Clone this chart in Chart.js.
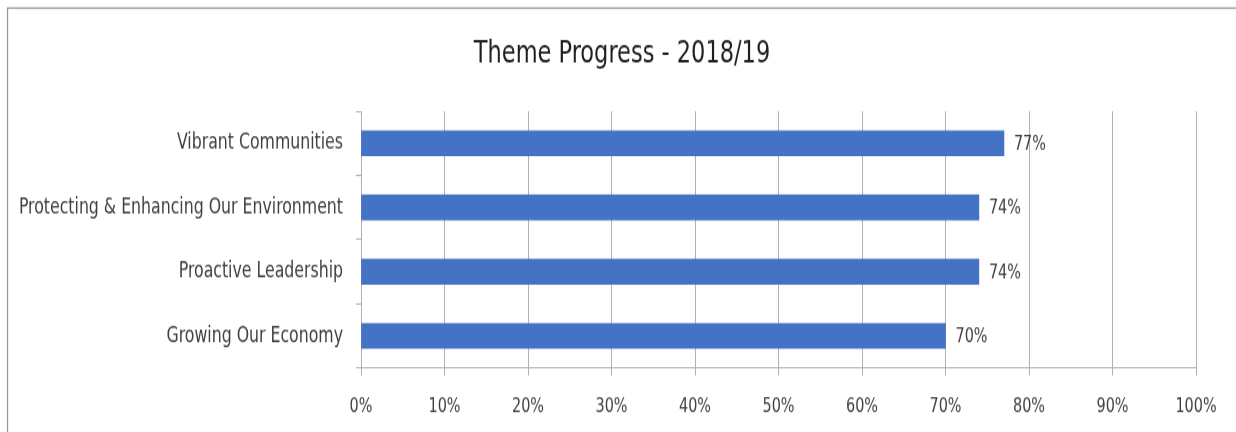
<!DOCTYPE html>
<html>
<head>
<meta charset="utf-8">
<title>Theme Progress - 2018/19</title>
<script src="https://cdn.jsdelivr.net/npm/chart.js@4/dist/chart.umd.min.js"></script>
<style>
  html, body { margin: 0; padding: 0; background: #fff; overflow: hidden; }
  #wrap { width: 1236px; height: 432px; overflow: hidden; }
  /* the chart is laid out short and stretched tall, giving the tall narrow lettering */
  #themeChart { display: block; transform: scaleY(1.2486); transform-origin: 0 0; }
</style>
</head>
<body>
<div id="wrap"><canvas id="themeChart" width="1236" height="346" style="width:1236px;height:346px"></canvas></div>
<script>
// Data
const themes = ['Vibrant Communities', 'Protecting & Enhancing Our Environment', 'Proactive Leadership', 'Growing Our Economy'];
const progress = [77, 74, 74, 70];
const xTicks = [0, 10, 20, 30, 40, 50, 60, 70, 80, 90, 100];
const chartTitle = 'Theme Progress - 2018/19';

const FONT = '"DejaVu Sans Condensed", "Liberation Sans Narrow", sans-serif';
const GRID = '#b0b0b0';
const TEXT = '#404040';
const H = 346;

// Frame round the chart, plus the title centred over the whole frame
const framePlugin = {
  id: 'frame',
  beforeDraw(chart) {
    const ctx = chart.ctx;
    ctx.save();
    ctx.strokeStyle = '#9a9a9a';
    ctx.lineWidth = 1.3;
    ctx.strokeRect(7.5, 6.5, chart.width + 20, chart.height + 20);
    ctx.font = '25px ' + FONT;
    ctx.fillStyle = '#1f1f1f';
    ctx.textAlign = 'center';
    ctx.textBaseline = 'middle';
    ctx.fillText(chartTitle, 622, 43);
    ctx.restore();
  }
};

// Percentage labels at the end of each bar
const barLabels = {
  id: 'barLabels',
  afterDatasetsDraw(chart) {
    const ctx = chart.ctx;
    const meta = chart.getDatasetMeta(0);
    ctx.save();
    ctx.font = '16px ' + FONT;
    ctx.fillStyle = TEXT;
    ctx.textAlign = 'left';
    ctx.textBaseline = 'middle';
    meta.data.forEach((bar, i) => {
      ctx.fillText(progress[i] + '%', bar.x + 10, bar.y + 1);
    });
    ctx.restore();
  }
};

const ctx = document.getElementById('themeChart').getContext('2d');

const themeChart = new Chart(ctx, {
  type: 'bar',
  data: {
    labels: themes,
    datasets: [{
      data: progress,
      backgroundColor: '#4472C4',
      borderWidth: 0,
      barThickness: 20
    }]
  },
  options: {
    indexAxis: 'y',
    responsive: false,
    animation: false,
    layout: { padding: { left: 0, right: 40, top: 89, bottom: 0 } },
    plugins: {
      legend: { display: false },
      tooltip: { enabled: false },
      title: { display: false }
    },
    scales: {
      x: {
        min: 0,
        max: 100,
        afterBuildTicks(scale) {
          scale.ticks = xTicks.map(v => ({ value: v }));
        },
        afterFit(scale) { scale.height = H - 294.7; },
        grid: { color: GRID, lineWidth: 1, tickLength: 6 },
        border: { color: GRID, width: 1 },
        ticks: {
          color: TEXT,
          padding: 16,
          font: { family: FONT, size: 16 },
          callback: v => v + '%'
        }
      },
      y: {
        afterFit(scale) { scale.width = 361; },
        grid: { drawOnChartArea: false, color: GRID, tickLength: 5, offset: true },
        border: { color: GRID, width: 1 },
        ticks: {
          color: TEXT,
          padding: 13,
          font: { family: FONT, size: 17.5 }
        }
      }
    }
  },
  plugins: [framePlugin, barLabels]
});
</script>
</body>
</html>
